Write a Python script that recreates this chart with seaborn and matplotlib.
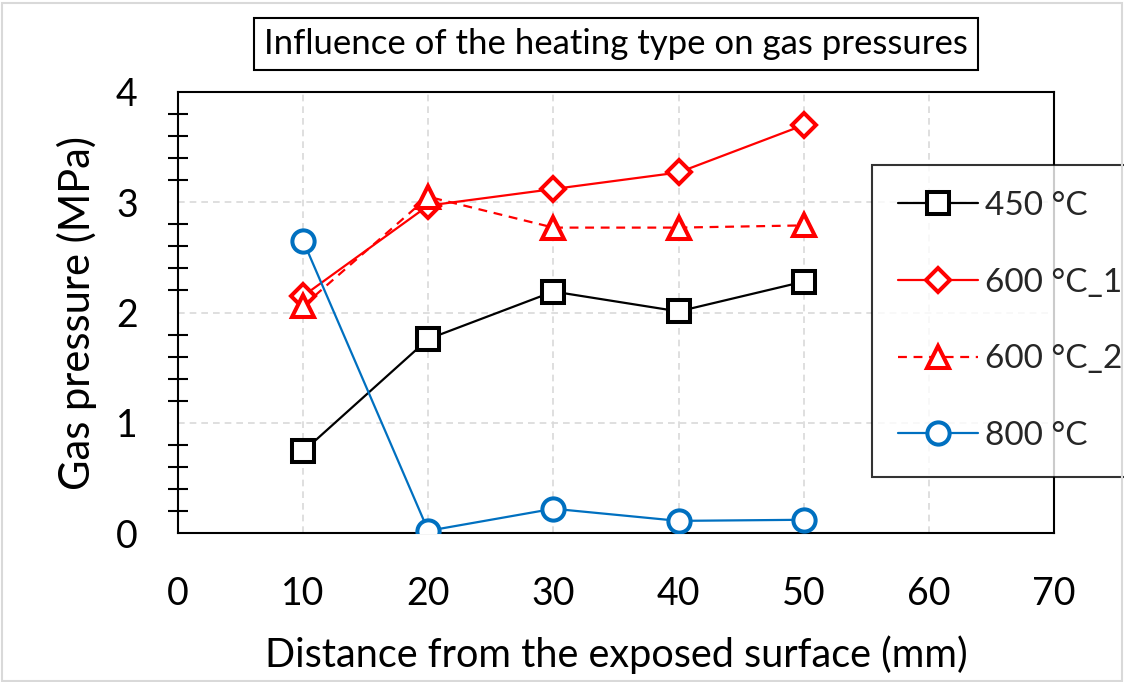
import matplotlib
matplotlib.use("Agg")
import matplotlib.pyplot as plt
import seaborn as sns
import pandas as pd
from matplotlib.ticker import MultipleLocator
from matplotlib.patches import Rectangle

distance = [10, 20, 30, 40, 50]
p_450 = [0.74, 1.76, 2.19, 2.01, 2.28]
p_600_1 = [2.15, 2.97, 3.12, 3.27, 3.70]
p_600_2 = [2.06, 3.05, 2.77, 2.77, 2.79]
p_800 = [2.65, 0.02, 0.22, 0.11, 0.12]

labels = ["450 °C", "600 °C_1", "600 °C_2", "800 °C"]
series = [p_450, p_600_1, p_600_2, p_800]
colors = ["#000000", "#FF0000", "#FF0000", "#0070C0"]
markers = ["s", "D", "^", "o"]
msizes = [16, 12.5, 16, 16]
lstyles = ["-", "-", (0, (4, 3)), "-"]

sns.set_theme(style="white")
plt.rcParams["font.family"] = ["Lato", "DejaVu Sans"]

fig = plt.figure(figsize=(11.24, 6.82), dpi=100)
ax = fig.add_axes([178 / 1124, 1 - 533 / 682, (1054 - 178) / 1124, (533 - 92) / 682])

for lab, vals, c, m, ms, ls in zip(labels, series, colors, markers, msizes, lstyles):
    df = pd.DataFrame({"x": distance, "y": vals})
    sns.lineplot(data=df, x="x", y="y", ax=ax, color=c, marker=m, markersize=ms,
                 markerfacecolor="white", markeredgecolor=c, markeredgewidth=2.9,
                 linewidth=1.6, linestyle=ls, label=lab, zorder=3)

ax.set_xlim(0, 70)
ax.set_ylim(0, 4)
ax.xaxis.set_major_locator(MultipleLocator(10))
ax.yaxis.set_major_locator(MultipleLocator(1))
ax.yaxis.set_minor_locator(MultipleLocator(0.2))
ax.grid(True, which="major", color="#D9D9D9", linestyle=(0, (4, 3)), linewidth=1.2, zorder=0)

for s in ax.spines.values():
    s.set_color("black")
    s.set_linewidth(1.5)

ax.tick_params(axis="both", which="major", direction="inout", length=20, width=1.5,
               color="black", labelsize=27, labelcolor="black")
ax.tick_params(axis="x", which="major", pad=21)
ax.tick_params(axis="y", which="major", pad=19)
ax.tick_params(axis="y", which="minor", direction="inout", length=15, width=1.5,
               color="black", left=True)
ax.tick_params(axis="x", which="minor", bottom=False)

ax.set_xlabel("Distance from the exposed surface (mm)", fontsize=28.5, color="black", labelpad=17)
ax.set_ylabel("Gas pressure (MPa)", fontsize=30, color="black", labelpad=14)

fig.text(616 / 1124, 1 - 44 / 682, "Influence of the heating type on gas pressures",
         ha="center", va="center", fontsize=25, color="black",
         bbox=dict(boxstyle="square,pad=0.3", facecolor="white", edgecolor="black", linewidth=1.5))

leg = ax.legend(loc="upper left", bbox_to_anchor=(872 / 1124, 1 - 165 / 682),
                bbox_transform=fig.transFigure, fontsize=24, frameon=True, fancybox=False,
                handlelength=2.4, labelspacing=1.4, borderpad=0.78, handletextpad=0.2,
                borderaxespad=0)
leg.get_frame().set_edgecolor("black")
leg.get_frame().set_linewidth(1.5)
leg.set_zorder(5)

fig.patches.append(Rectangle((0.002, 0.002), 0.996, 0.993, transform=fig.transFigure,
                             fill=False, edgecolor="#D9D9D9", linewidth=1.5))

fig.savefig("out.png", dpi=100)
